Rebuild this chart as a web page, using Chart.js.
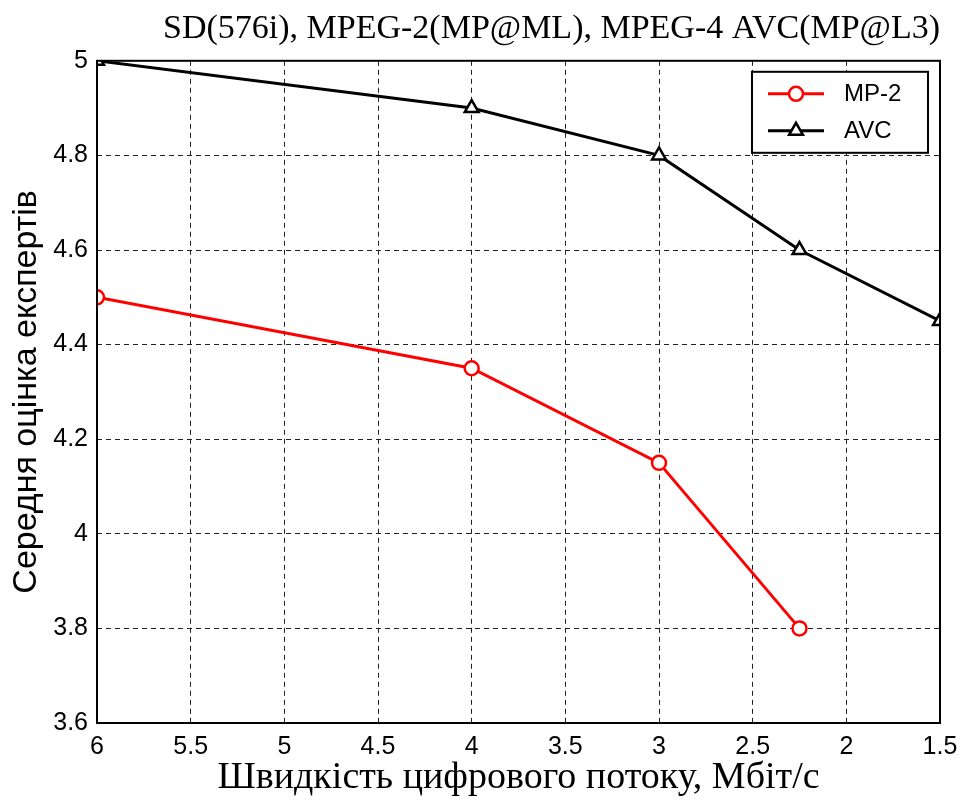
<!DOCTYPE html>
<html>
<head>
    <meta charset="UTF-8">
    <title>Document</title>
    <script src="https://cdn.jsdelivr.net/npm/chart.js@4.4.0/dist/chart.umd.min.js"></script>
    <style>
        body { margin: 0; background: #fff; }
    </style>
</head>
<body>
    <canvas id="line-chart" width="959" height="805"></canvas>
    <script>
        // bitrate, Mbit/s
        let mp2X = [6, 4, 3, 2.25];
        let mp2Y = [4.5, 4.35, 4.15, 3.8];
        let avcX = [6, 4, 3, 2.25, 1.5];
        let avcY = [5, 4.9, 4.8, 4.6, 4.45];
        let xTicks = [6, 5.5, 5, 4.5, 4, 3.5, 3, 2.5, 2, 1.5];
        let yTicks = [3.6, 3.8, 4, 4.2, 4.4, 4.6, 4.8, 5];

        function pts(xs, ys){
            return xs.map((v, i) => ({x: v, y: ys[i]}));
        }

        // box around plot + legend inside plot
        const boxPlugin = {
            id: 'box',
            afterDraw(chart){
                const ctx = chart.ctx;
                const a = chart.chartArea;
                ctx.save();
                ctx.strokeStyle = '#000';
                ctx.lineWidth = 2;
                ctx.strokeRect(a.left, a.top, a.right - a.left, a.bottom - a.top);

                // legend
                const lx = a.right - 188, ly = a.top + 11, lw = 176, lh = 81;
                ctx.fillStyle = '#fff';
                ctx.fillRect(lx, ly, lw, lh);
                ctx.strokeRect(lx, ly, lw, lh);
                chart.data.datasets.forEach((ds, i) => {
                    const yy = ly + 22 + i * 37;
                    ctx.strokeStyle = ds.borderColor;
                    ctx.lineWidth = 3;
                    ctx.beginPath();
                    ctx.moveTo(lx + 16, yy);
                    ctx.lineTo(lx + 72, yy);
                    ctx.stroke();
                    ctx.fillStyle = '#fff';
                    ctx.lineWidth = 2.5;
                    Chart.helpers.drawPoint(ctx, {
                        pointStyle: ds.pointStyle,
                        radius: ds.pointRadius,
                        borderWidth: 2.5
                    }, lx + 44, yy);
                    ctx.fillStyle = '#000';
                    ctx.font = '24px "Liberation Sans", Arial';
                    ctx.textBaseline = 'middle';
                    ctx.fillText(ds.label, lx + 92, yy + 1);
                });
                ctx.restore();
            }
        };

        const fmt = v => String(+Number(v).toFixed(2));

        new Chart(document.getElementById("line-chart"), {
            type: 'line',
            data: {
                datasets: [{
                    data: pts(mp2X, mp2Y),
                    label: "MP-2",
                    borderColor: "#ff0000",
                    backgroundColor: "#fff",
                    borderWidth: 3,
                    pointStyle: 'circle',
                    pointRadius: 7,
                    pointBorderWidth: 2.5,
                    fill: false
                }, {
                    data: pts(avcX, avcY),
                    label: "AVC",
                    borderColor: "#000000",
                    backgroundColor: "#fff",
                    borderWidth: 3,
                    pointStyle: 'triangle',
                    pointRadius: 8,
                    pointBorderWidth: 2.5,
                    fill: false
                }]
            },
            options: {
                responsive: false,
                animation: false,
                layout: { padding: { left: 0, right: 19, top: 0, bottom: 0 } },
                plugins: {
                    legend: { display: false },
                    tooltip: { enabled: false },
                    title: {
                        display: true,
                        fullSize: false,
                        align: 'end',
                        text: 'SD(576i), MPEG-2(MP@ML), MPEG-4 AVC(MP@L3)',
                        color: '#000',
                        font: { family: '"Liberation Serif", "Times New Roman"', size: 34, weight: 'normal' },
                        padding: { top: 9, bottom: 11 }
                    }
                },
                scales: {
                    x: {
                        type: 'linear',
                        reverse: true,
                        min: 1.5,
                        max: 6,
                        afterBuildTicks: s => { s.ticks = xTicks.map(v => ({value: v})); },
                        afterFit: s => { s.height = 82; s.paddingRight = 0; s.paddingLeft = 0; },
                        ticks: {
                            color: '#000',
                            font: { family: '"Liberation Sans", Arial', size: 25 },
                            maxRotation: 0,
                            padding: 9,
                            callback: fmt
                        },
                        grid: { color: '#222', lineWidth: 1, drawTicks: false },
                        border: { display: false, dash: [5, 4] },
                        title: {
                            display: true,
                            text: 'Швидкість цифрового потоку, Мбіт/с',
                            color: '#000',
                            font: { family: '"Liberation Serif", "Times New Roman"', size: 38 },
                            padding: { top: 0, bottom: 4 }
                        }
                    },
                    y: {
                        min: 3.6,
                        max: 5,
                        afterBuildTicks: s => { s.ticks = yTicks.map(v => ({value: v})); },
                        afterFit: s => { s.width = 97; },
                        ticks: {
                            color: '#000',
                            font: { family: '"Liberation Sans", Arial', size: 25 },
                            padding: 9,
                            callback: fmt
                        },
                        grid: { color: '#222', lineWidth: 1, drawTicks: false },
                        border: { display: false, dash: [5, 4] },
                        title: {
                            display: true,
                            text: 'Середня оцінка експертів',
                            color: '#000',
                            font: { family: '"Liberation Sans", Arial', size: 34 },
                            padding: { top: 6, bottom: 0 }
                        }
                    }
                }
            },
            plugins: [boxPlugin]
        });
    </script>
</body>
</html>
